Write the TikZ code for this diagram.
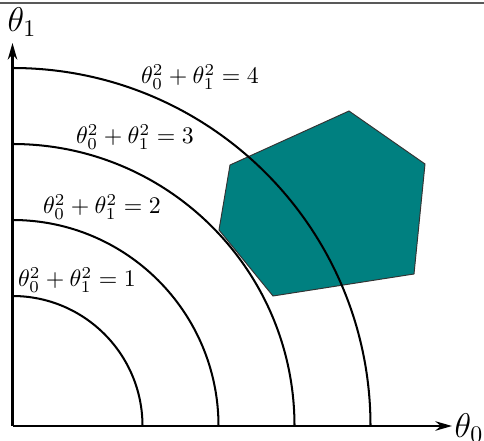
\documentclass[tikz,border=0pt]{standalone}
\usetikzlibrary{arrows.meta}
\definecolor{tealfill}{RGB}{0,128,128}
\begin{document}
\begin{tikzpicture}[x=0.42pt,y=0.42pt,
  curve/.style={line width=0.85pt},
  axisline/.style={line width=0.9pt,-{Stealth[length=7pt,width=4pt]}},
  eqlabel/.style={inner sep=0pt},
  axlabel/.style={inner sep=0pt,font=\Large}]
\useasboundingbox (0,0) rectangle (484,440);
\draw[line width=0.7pt, black!65] (0,437) -- (484,437);
\coordinate (O) at (12.5,14);
\coordinate (Ytip) at (12.5,397);
\coordinate (Xtip) at (452,14);
% polygon
\coordinate (p1) at (230,275);
\coordinate (p2) at (349,329);
\coordinate (p3) at (425,276);
\coordinate (p4) at (414,166);
\coordinate (p5) at (273,144);
\coordinate (p6) at (219,210);
\draw[fill=tealfill, draw=black!80, line width=0.4pt] (p1) -- (p2) -- (p3) -- (p4) -- (p5) -- (p6) -- cycle;
% arcs
\foreach \r in {130,206,282,358}{
  \draw[curve] (O) ++(\r,0) arc[start angle=0, end angle=90, radius=\r];
}
% axes
\draw[axisline] (O) -- (Xtip);
\draw[axisline] (O) -- (Ytip);
\node[axlabel] (t0) at (469,12) {$\theta_0$};
\node[axlabel] (t1) at (22,418) {$\theta_1$};
% labels
\node[eqlabel] (l4) at (200,363) {$\theta_0^2+\theta_1^2=4$};
\node[eqlabel] (l3) at (135,303) {$\theta_0^2+\theta_1^2=3$};
\node[eqlabel] (l2) at (102,233) {$\theta_0^2+\theta_1^2=2$};
\node[eqlabel] (l1) at (77,160) {$\theta_0^2+\theta_1^2=1$};
\end{tikzpicture}
\end{document}
